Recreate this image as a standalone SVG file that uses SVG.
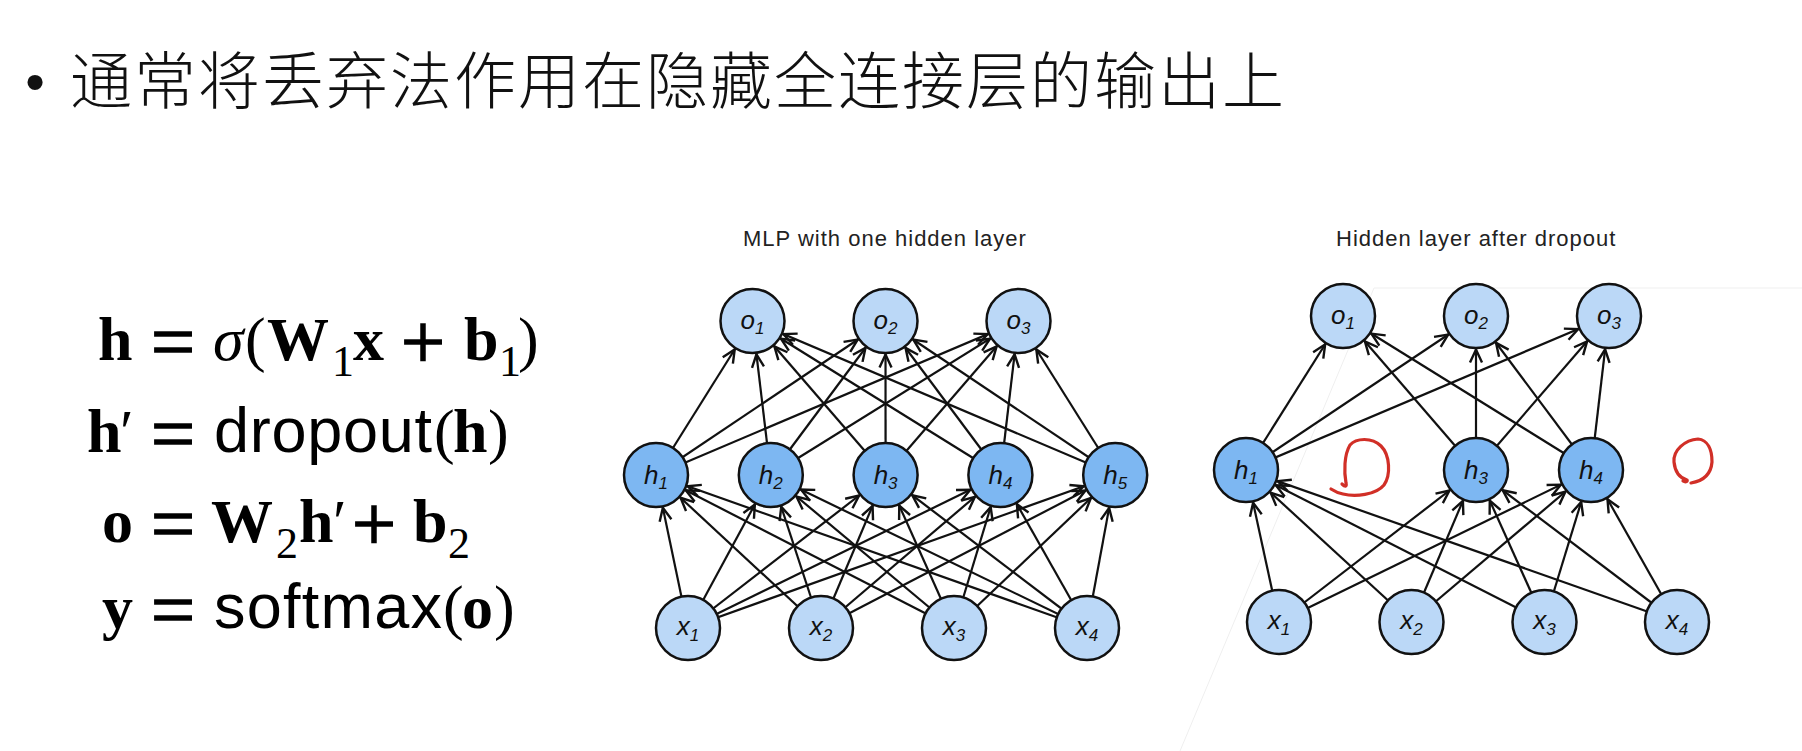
<svg xmlns="http://www.w3.org/2000/svg" width="1802" height="751" viewBox="0 0 1802 751">
<style>
.zh{font-family:"Noto Sans CJK SC","Noto Sans",sans-serif;font-size:62px;font-weight:300;letter-spacing:2px;fill:#111}
.cap{font-family:"Liberation Sans",Arial,sans-serif;font-size:22px;letter-spacing:1px;fill:#222}
.lbl{font-family:"Liberation Sans",Arial,sans-serif;font-style:italic;font-size:26px;fill:#111;text-anchor:middle}
.sub{font-size:17px}
.ni{fill:#bbd8f7;stroke:#111;stroke-width:2.5}
.nh{fill:#7db7f2;stroke:#111;stroke-width:2.5}
.e{stroke:#111;stroke-width:2.2;marker-end:url(#arr)}
.m{font-family:"Liberation Serif","Times New Roman",serif;font-size:62px;fill:#000}
.b{font-weight:bold}
.it{font-style:italic}
.op{font-size:78px;stroke:#000;stroke-width:1.6}
.s{font-size:44px}
.sf{font-family:"Liberation Sans",Arial,sans-serif;font-size:63px;fill:#000}
.red{fill:none;stroke:#d12f27;stroke-width:3.2;stroke-linecap:round;stroke-linejoin:round}
.faint{stroke:#efefef;stroke-width:1}
</style>
<defs>
<marker id="arr" markerUnits="userSpaceOnUse" viewBox="-16 -9 20 18" markerWidth="20" markerHeight="18" refX="33.5" refY="0" orient="auto">
<path d="M -13 -6 L 0 0 L -13 6" fill="none" stroke="#111" stroke-width="2.4"/>
</marker>
</defs>

<line class="faint" x1="1374" y1="288" x2="1802" y2="288"/>
<line class="faint" x1="1374" y1="288" x2="1180" y2="751"/>

<g id="title">
<text x="35" y="101" font-family="Liberation Sans, Arial, sans-serif" font-size="56" text-anchor="middle" fill="#111">•</text>
<text class="zh" x="70" y="104">通常将丢弃法作用在隐藏全连接层的输出上</text>
</g>

<g id="equations">
<text class="m b" x="98" y="360">h</text>
<text class="m op" x="151" y="368">=</text>
<text class="m it" x="213" y="360">σ</text>
<text class="m" x="245" y="360">(</text>
<text class="m b" x="267" y="360" font-size="66">W</text>
<text class="m s" x="332" y="376">1</text>
<text class="m b" x="353" y="360">x</text>
<text class="m op" x="401" y="368">+</text>
<text class="m b" x="464" y="360">b</text>
<text class="m s" x="499" y="376">1</text>
<text class="m" x="518" y="360">)</text>

<text class="m b" x="87" y="452">h</text>
<text class="m" x="120" y="452">′</text>
<text class="m op" x="151" y="460">=</text>
<text class="sf" x="214" y="452" textLength="218" lengthAdjust="spacing">dropout</text>
<text class="m" x="434" y="452">(</text>
<text class="m b" x="453" y="452">h</text>
<text class="m" x="488" y="452">)</text>

<text class="m b" x="102" y="542">o</text>
<text class="m op" x="151" y="550">=</text>
<text class="m b" x="211" y="542" font-size="66">W</text>
<text class="m s" x="276" y="558">2</text>
<text class="m b" x="299" y="542">h</text>
<text class="m" x="333" y="542">′</text>
<text class="m op" x="352" y="550">+</text>
<text class="m b" x="413" y="542">b</text>
<text class="m s" x="448" y="558">2</text>

<text class="m b" x="102" y="628">y</text>
<text class="m op" x="151" y="636">=</text>
<text class="sf" x="214" y="628" textLength="228" lengthAdjust="spacing">softmax</text>
<text class="m" x="443" y="628">(</text>
<text class="m b" x="462" y="628">o</text>
<text class="m" x="494" y="628">)</text>
</g>

<text class="cap" x="743" y="246">MLP with one hidden layer</text>
<text class="cap" x="1336" y="246">Hidden layer after dropout</text>

<g id="connectors">
<line class="e" x1="688" y1="628" x2="656" y2="475"/>
<line class="e" x1="688" y1="628" x2="770.8" y2="475"/>
<line class="e" x1="688" y1="628" x2="885.6" y2="475"/>
<line class="e" x1="688" y1="628" x2="1000.4" y2="475"/>
<line class="e" x1="688" y1="628" x2="1115.2" y2="475"/>
<line class="e" x1="821" y1="628" x2="656" y2="475"/>
<line class="e" x1="821" y1="628" x2="770.8" y2="475"/>
<line class="e" x1="821" y1="628" x2="885.6" y2="475"/>
<line class="e" x1="821" y1="628" x2="1000.4" y2="475"/>
<line class="e" x1="821" y1="628" x2="1115.2" y2="475"/>
<line class="e" x1="954" y1="628" x2="656" y2="475"/>
<line class="e" x1="954" y1="628" x2="770.8" y2="475"/>
<line class="e" x1="954" y1="628" x2="885.6" y2="475"/>
<line class="e" x1="954" y1="628" x2="1000.4" y2="475"/>
<line class="e" x1="954" y1="628" x2="1115.2" y2="475"/>
<line class="e" x1="1087" y1="628" x2="656" y2="475"/>
<line class="e" x1="1087" y1="628" x2="770.8" y2="475"/>
<line class="e" x1="1087" y1="628" x2="885.6" y2="475"/>
<line class="e" x1="1087" y1="628" x2="1000.4" y2="475"/>
<line class="e" x1="1087" y1="628" x2="1115.2" y2="475"/>
<line class="e" x1="656" y1="475" x2="752.5" y2="321"/>
<line class="e" x1="656" y1="475" x2="885.5" y2="321"/>
<line class="e" x1="656" y1="475" x2="1018.5" y2="321"/>
<line class="e" x1="770.8" y1="475" x2="752.5" y2="321"/>
<line class="e" x1="770.8" y1="475" x2="885.5" y2="321"/>
<line class="e" x1="770.8" y1="475" x2="1018.5" y2="321"/>
<line class="e" x1="885.6" y1="475" x2="752.5" y2="321"/>
<line class="e" x1="885.6" y1="475" x2="885.5" y2="321"/>
<line class="e" x1="885.6" y1="475" x2="1018.5" y2="321"/>
<line class="e" x1="1000.4" y1="475" x2="752.5" y2="321"/>
<line class="e" x1="1000.4" y1="475" x2="885.5" y2="321"/>
<line class="e" x1="1000.4" y1="475" x2="1018.5" y2="321"/>
<line class="e" x1="1115.2" y1="475" x2="752.5" y2="321"/>
<line class="e" x1="1115.2" y1="475" x2="885.5" y2="321"/>
<line class="e" x1="1115.2" y1="475" x2="1018.5" y2="321"/>
<line class="e" x1="1279" y1="622" x2="1246" y2="470"/>
<line class="e" x1="1279" y1="622" x2="1476" y2="470"/>
<line class="e" x1="1279" y1="622" x2="1591" y2="470"/>
<line class="e" x1="1411.5" y1="622" x2="1246" y2="470"/>
<line class="e" x1="1411.5" y1="622" x2="1476" y2="470"/>
<line class="e" x1="1411.5" y1="622" x2="1591" y2="470"/>
<line class="e" x1="1544.5" y1="622" x2="1246" y2="470"/>
<line class="e" x1="1544.5" y1="622" x2="1476" y2="470"/>
<line class="e" x1="1544.5" y1="622" x2="1591" y2="470"/>
<line class="e" x1="1677" y1="622" x2="1246" y2="470"/>
<line class="e" x1="1677" y1="622" x2="1476" y2="470"/>
<line class="e" x1="1677" y1="622" x2="1591" y2="470"/>
<line class="e" x1="1246" y1="470" x2="1343" y2="316"/>
<line class="e" x1="1246" y1="470" x2="1476" y2="316"/>
<line class="e" x1="1246" y1="470" x2="1609" y2="316"/>
<line class="e" x1="1476" y1="470" x2="1343" y2="316"/>
<line class="e" x1="1476" y1="470" x2="1476" y2="316"/>
<line class="e" x1="1476" y1="470" x2="1609" y2="316"/>
<line class="e" x1="1591" y1="470" x2="1343" y2="316"/>
<line class="e" x1="1591" y1="470" x2="1476" y2="316"/>
<line class="e" x1="1591" y1="470" x2="1609" y2="316"/>
</g>

<g id="L-o1"><circle class="ni" cx="752.5" cy="321" r="32"/><text class="lbl" x="752.5" y="329">o<tspan class="sub" dy="5">1</tspan></text></g>
<g id="L-o2"><circle class="ni" cx="885.5" cy="321" r="32"/><text class="lbl" x="885.5" y="329">o<tspan class="sub" dy="5">2</tspan></text></g>
<g id="L-o3"><circle class="ni" cx="1018.5" cy="321" r="32"/><text class="lbl" x="1018.5" y="329">o<tspan class="sub" dy="5">3</tspan></text></g>
<g id="L-h1"><circle class="nh" cx="656" cy="475" r="32"/><text class="lbl" x="656" y="484">h<tspan class="sub" dy="5">1</tspan></text></g>
<g id="L-h2"><circle class="nh" cx="770.8" cy="475" r="32"/><text class="lbl" x="770.8" y="484">h<tspan class="sub" dy="5">2</tspan></text></g>
<g id="L-h3"><circle class="nh" cx="885.6" cy="475" r="32"/><text class="lbl" x="885.6" y="484">h<tspan class="sub" dy="5">3</tspan></text></g>
<g id="L-h4"><circle class="nh" cx="1000.4" cy="475" r="32"/><text class="lbl" x="1000.4" y="484">h<tspan class="sub" dy="5">4</tspan></text></g>
<g id="L-h5"><circle class="nh" cx="1115.2" cy="475" r="32"/><text class="lbl" x="1115.2" y="484">h<tspan class="sub" dy="5">5</tspan></text></g>
<g id="L-x1"><circle class="ni" cx="688" cy="628" r="32"/><text class="lbl" x="688" y="635">x<tspan class="sub" dy="6">1</tspan></text></g>
<g id="L-x2"><circle class="ni" cx="821" cy="628" r="32"/><text class="lbl" x="821" y="635">x<tspan class="sub" dy="6">2</tspan></text></g>
<g id="L-x3"><circle class="ni" cx="954" cy="628" r="32"/><text class="lbl" x="954" y="635">x<tspan class="sub" dy="6">3</tspan></text></g>
<g id="L-x4"><circle class="ni" cx="1087" cy="628" r="32"/><text class="lbl" x="1087" y="635">x<tspan class="sub" dy="6">4</tspan></text></g>

<g id="R-o1"><circle class="ni" cx="1343" cy="316" r="32"/><text class="lbl" x="1343" y="324">o<tspan class="sub" dy="5">1</tspan></text></g>
<g id="R-o2"><circle class="ni" cx="1476" cy="316" r="32"/><text class="lbl" x="1476" y="324">o<tspan class="sub" dy="5">2</tspan></text></g>
<g id="R-o3"><circle class="ni" cx="1609" cy="316" r="32"/><text class="lbl" x="1609" y="324">o<tspan class="sub" dy="5">3</tspan></text></g>
<g id="R-h1"><circle class="nh" cx="1246" cy="470" r="32"/><text class="lbl" x="1246" y="479">h<tspan class="sub" dy="5">1</tspan></text></g>
<g id="R-h3"><circle class="nh" cx="1476" cy="470" r="32"/><text class="lbl" x="1476" y="479">h<tspan class="sub" dy="5">3</tspan></text></g>
<g id="R-h4"><circle class="nh" cx="1591" cy="470" r="32"/><text class="lbl" x="1591" y="479">h<tspan class="sub" dy="5">4</tspan></text></g>
<g id="R-x1"><circle class="ni" cx="1279" cy="622" r="32"/><text class="lbl" x="1279" y="629">x<tspan class="sub" dy="6">1</tspan></text></g>
<g id="R-x2"><circle class="ni" cx="1411.5" cy="622" r="32"/><text class="lbl" x="1411.5" y="629">x<tspan class="sub" dy="6">2</tspan></text></g>
<g id="R-x3"><circle class="ni" cx="1544.5" cy="622" r="32"/><text class="lbl" x="1544.5" y="629">x<tspan class="sub" dy="6">3</tspan></text></g>
<g id="R-x4"><circle class="ni" cx="1677" cy="622" r="32"/><text class="lbl" x="1677" y="629">x<tspan class="sub" dy="6">4</tspan></text></g>

<g id="annotations">
<path class="red" d="M1342,484 C1345,487 1347,487 1346,483 C1344,472 1344,455 1350,445 C1356,438 1372,437 1381,446 C1390,455 1391,475 1384,485 C1376,495 1355,497 1343,494 C1338,493 1334,491 1331,489"/>
<path class="red" d="M1683,481 C1686,483 1688,481 1687,480 C1680,478 1675,472 1674,462 C1673,450 1685,440 1698,439 C1708,440 1712,450 1712,462 C1711,474 1703,481 1691,483"/>
</g>
</svg>
